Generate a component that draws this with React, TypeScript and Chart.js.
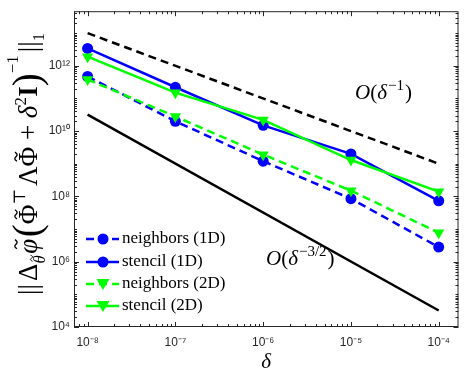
import React, { useEffect, useRef } from "react";
import { Chart, registerables } from "chart.js";
Chart.register(...registerables);

const deltas = [1e-8, 1e-7, 1e-6, 1e-5, 1e-4];
const neighbors1D = [4.7e11, 2.0e10, 1.2e9, 8.5e7, 2.8e6];
const stencil1D = [3.4e12, 2.2e11, 1.5e10, 2.0e9, 7.3e7];
const neighbors2D = [3.8e11, 2.8e10, 1.9e9, 1.5e8, 7.7e6];
const stencil2D = [1.9e12, 1.5e11, 2.2e10, 1.3e9, 1.4e8];
const refDeltas = [1e-8, 1e-4];
const refOrder1 = [1e13, 1e9];
const refOrder32 = [3.2e10, 3.2e4];
const xTicks = [1e-8, 1e-7, 1e-6, 1e-5, 1e-4];
const yTicks = [1e4, 1e6, 1e8, 1e10, 1e12];

const BLUE = "#0000ff";
const GREEN = "#00ff00";
const SERIF = "'Liberation Serif', 'DejaVu Serif', serif";
const DASH = [8, 5];

const SUP: Record<string, string> = {
  "-": "\u207B", "0": "\u2070", "1": "\u00B9", "2": "\u00B2", "3": "\u00B3",
  "4": "\u2074", "5": "\u2075", "6": "\u2076", "7": "\u2077", "8": "\u2078", "9": "\u2079",
};
const pow10Label = (v: number) => {
  const e = Math.round(Math.log10(v)).toString();
  return "10" + e.split("").map((c) => SUP[c] || c).join("");
};
const pts = (xs: number[], ys: number[]) => xs.map((x, i) => ({ x, y: ys[i] }));

const legendItems = [
  { label: "neighbors (1D)", color: BLUE, dash: DASH, marker: "circle" },
  { label: "stencil (1D)", color: BLUE, dash: [], marker: "circle" },
  { label: "neighbors (2D)", color: GREEN, dash: DASH, marker: "tri" },
  { label: "stencil (2D)", color: GREEN, dash: [], marker: "tri" },
];

// y-axis title pieces: text, relative size, style, vertical shift (em, + = down), tilde, gap after (em)
const titleParts: [string, number, string, number, boolean, number][] = [
  ["||", 1, "", 0, false, 0.12],
  ["\u0394", 1, "", 0, false, 0],
  ["\u03B8", 0.62, "italic ", 0.28, true, 0.06],
  ["\u03C6", 1, "italic ", 0, true, 0.06],
  ["(", 1.45, "", 0.12, false, 0],
  ["\u03A6", 1, "", 0, true, 0],
  ["\u22A4", 0.62, "", -0.45, false, 0.1],
  ["\u039B", 1, "", 0, false, 0],
  ["\u03A6", 1, "", 0, true, 0],
  [" + ", 1, "", 0, false, 0],
  ["\u03B4", 1, "italic ", 0, false, 0],
  ["2", 0.62, "", -0.42, false, 0.02],
  ["I", 1, "bold ", 0, false, 0],
  [")", 1.45, "", 0.12, false, 0],
  ["\u22121", 0.62, "", -0.7, false, 0.12],
  ["||", 1, "", 0, false, 0],
  ["1", 0.62, "", 0.25, false, 0],
];

function drawMarker(ctx: CanvasRenderingContext2D, kind: string, x: number, y: number, color: string) {
  ctx.save();
  ctx.fillStyle = color;
  ctx.beginPath();
  if (kind === "circle") {
    ctx.arc(x, y, 5.5, 0, Math.PI * 2);
  } else {
    ctx.moveTo(x - 6.5, y - 5);
    ctx.lineTo(x + 6.5, y - 5);
    ctx.lineTo(x, y + 6);
    ctx.closePath();
  }
  ctx.fill();
  ctx.restore();
}

function drawTitle(ctx: CanvasRenderingContext2D, baseX: number, startY: number, endY: number) {
  const base = 28;
  const measure = (F: number) => {
    let w = 0;
    for (const [t, s, st, , , g] of titleParts) {
      ctx.font = `${st}${s * F}px ${SERIF}`;
      w += ctx.measureText(t).width + g * F;
    }
    return w;
  };
  const target = startY - endY;
  const F = base * target / measure(base);
  ctx.save();
  ctx.translate(baseX, startY);
  ctx.rotate(-Math.PI / 2);
  ctx.fillStyle = "#000";
  ctx.strokeStyle = "#000";
  ctx.textAlign = "left";
  ctx.textBaseline = "alphabetic";
  let x = 0;
  for (const [t, s, st, dy, tilde, g] of titleParts) {
    const size = s * F;
    ctx.font = `${st}${size}px ${SERIF}`;
    const w = ctx.measureText(t).width;
    ctx.fillText(t, x, dy * F);
    if (tilde) {
      const cx = x + w / 2 + (st.includes("italic") ? size * 0.08 : 0);
      const ty = dy * F - size * 0.78;
      const hw = Math.max(3, size * 0.17);
      ctx.lineWidth = Math.max(1, size * 0.05);
      ctx.beginPath();
      ctx.moveTo(cx - hw, ty + 1);
      ctx.bezierCurveTo(cx - hw * 0.5, ty - 2.5, cx - hw * 0.2, ty - 1, cx, ty);
      ctx.bezierCurveTo(cx + hw * 0.2, ty + 1, cx + hw * 0.5, ty + 2.5, cx + hw, ty - 1);
      ctx.stroke();
    }
    x += w + g * F;
  }
  ctx.restore();
}

const decorPlugin = {
  id: "decor",
  afterDraw(chart: any) {
    const ctx: CanvasRenderingContext2D = chart.ctx;
    const { left, right, top, bottom } = chart.chartArea;
    const xs = chart.scales.x;
    const ys = chart.scales.y;
    ctx.save();
    ctx.strokeStyle = "#262626";
    ctx.lineWidth = 1;
    ctx.strokeRect(left + 0.5, top + 0.5, right - left - 1, bottom - top - 1);
    for (let d = -9; d <= -3; d++) {
      for (let k = 1; k <= 9; k++) {
        const v = k * Math.pow(10, d);
        if (v < xs.min || v > xs.max) continue;
        const px = Math.round(xs.getPixelForValue(v)) + 0.5;
        const len = k === 1 ? 5 : 3;
        ctx.beginPath();
        ctx.moveTo(px, bottom);
        ctx.lineTo(px, bottom - len);
        ctx.moveTo(px, top);
        ctx.lineTo(px, top + len);
        ctx.stroke();
      }
    }
    for (let d = 3; d <= 14; d++) {
      for (let k = 1; k <= 9; k++) {
        const v = k * Math.pow(10, d);
        if (v < ys.min || v > ys.max) continue;
        const py = Math.round(ys.getPixelForValue(v)) + 0.5;
        const len = k === 1 && d % 2 === 0 ? 5 : 3;
        ctx.beginPath();
        ctx.moveTo(left, py);
        ctx.lineTo(left + len, py);
        ctx.moveTo(right, py);
        ctx.lineTo(right - len, py);
        ctx.stroke();
      }
    }
    ctx.restore();

    // legend
    ctx.save();
    const rows = [239, 262, 284, 306];
    legendItems.forEach((it, i) => {
      const y = rows[i];
      ctx.strokeStyle = it.color;
      ctx.lineWidth = 2.5;
      ctx.setLineDash(it.dash);
      ctx.beginPath();
      ctx.moveTo(86, y);
      ctx.lineTo(119, y);
      ctx.stroke();
      ctx.setLineDash([]);
      drawMarker(ctx, it.marker, 103, y, it.color);
      ctx.fillStyle = "#000";
      ctx.font = `17px ${SERIF}`;
      ctx.textBaseline = "middle";
      ctx.textAlign = "left";
      ctx.fillText(it.label, 122, y);
    });
    ctx.restore();

    // annotations
    ctx.save();
    ctx.fillStyle = "#000";
    ctx.textBaseline = "alphabetic";
    const ann = (x: number, y: number, sup: string) => {
      ctx.font = `italic 21px ${SERIF}`;
      ctx.fillText("O", x, y);
      let cx = x + ctx.measureText("O").width;
      ctx.font = `21px ${SERIF}`;
      ctx.fillText("(", cx, y);
      cx += ctx.measureText("(").width;
      ctx.font = `italic 21px ${SERIF}`;
      ctx.fillText("\u03B4", cx, y);
      cx += ctx.measureText("\u03B4").width + 1;
      ctx.font = `15px ${SERIF}`;
      ctx.fillText(sup, cx, y - 9);
      cx += ctx.measureText(sup).width + 1;
      ctx.font = `21px ${SERIF}`;
      ctx.fillText(")", cx, y);
    };
    ann(355, 99, "\u22121");
    ann(266, 265, "\u22123/2");

    ctx.font = `italic 21px ${SERIF}`;
    ctx.textAlign = "center";
    ctx.fillText("\u03B4", (left + right) / 2, 368);
    ctx.restore();

    drawTitle(ctx, 37, 295, 33);
  },
};

export default function App() {
  const ref = useRef<HTMLCanvasElement>(null);
  useEffect(() => {
    document.body.style.margin = "0";
    const line = (label: string, xs: number[], ys: number[], color: string, dash: number[], style: any, rot = 0, r = 5.5) => ({
      label,
      data: pts(xs, ys),
      borderColor: color,
      backgroundColor: color,
      borderWidth: 2.5,
      borderDash: dash,
      pointStyle: style,
      pointRadius: style ? r : 0,
      pointRotation: rot,
      pointBorderWidth: 0,
      tension: 0,
    });
    const chart = new Chart(ref.current!, {
      type: "line",
      data: {
        datasets: [
          line("O1", refDeltas, refOrder1, "#000", DASH, false),
          line("O32", refDeltas, refOrder32, "#000", [], false),
          line("stencil (2D)", deltas, stencil2D, GREEN, [], "triangle", 180, 6.5),
          line("stencil (1D)", deltas, stencil1D, BLUE, [], "circle"),
          line("neighbors (2D)", deltas, neighbors2D, GREEN, DASH, "triangle", 180, 6.5),
          line("neighbors (1D)", deltas, neighbors1D, BLUE, DASH, "circle"),
        ] as any,
      },
      options: {
        animation: false,
        responsive: false,
        maintainAspectRatio: false,
        layout: { padding: { top: 2, right: 2, left: 0, bottom: 0 } },
        plugins: { legend: { display: false }, tooltip: { enabled: false } },
        scales: {
          x: {
            type: "logarithmic",
            min: 7.14e-9,
            max: 1.68e-4,
            grid: { display: false, drawTicks: false },
            border: { display: false },
            afterBuildTicks: (s: any) => { s.ticks = xTicks.map((v) => ({ value: v })); },
            afterFit: (s: any) => { s.height = 55; },
            ticks: {
              autoSkip: false,
              maxRotation: 0,
              padding: 8,
              color: "#262626",
              font: { family: "'Liberation Sans', Arial, sans-serif", size: 12 },
              callback: (v: any) => pow10Label(Number(v)),
            },
          },
          y: {
            type: "logarithmic",
            min: 1e4,
            max: 4.7e13,
            grid: { display: false, drawTicks: false },
            border: { display: false },
            afterBuildTicks: (s: any) => { s.ticks = yTicks.map((v) => ({ value: v })); },
            afterFit: (s: any) => { s.width = 74; },
            ticks: {
              autoSkip: false,
              padding: 4,
              color: "#262626",
              font: { family: "'Liberation Sans', Arial, sans-serif", size: 12 },
              callback: (v: any) => pow10Label(Number(v)),
            },
          },
        },
      },
      plugins: [decorPlugin],
    });
    return () => chart.destroy();
  }, []);
  return (
    <div style={{ position: "absolute", left: 0, top: 0, width: 465, height: 382, background: "#fff" }}>
      <canvas ref={ref} width={465} height={382} style={{ width: 465, height: 382 }} />
    </div>
  );
}
